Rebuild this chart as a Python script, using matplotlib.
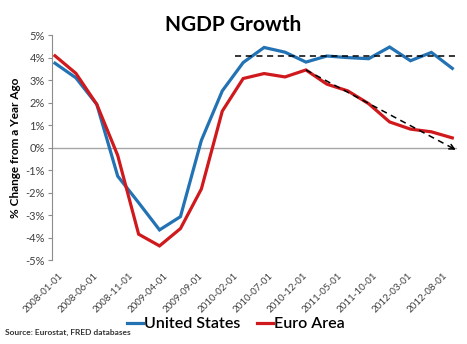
import matplotlib.pyplot as plt
from matplotlib.ticker import FuncFormatter
from matplotlib.transforms import ScaledTranslation

# Quarterly NGDP growth, % change from a year ago
quarters = ['2008-01', '2008-04', '2008-07', '2008-10', '2009-01', '2009-04', '2009-07',
            '2009-10', '2010-01', '2010-04', '2010-07', '2010-10', '2011-01', '2011-04',
            '2011-07', '2011-10', '2012-01', '2012-04', '2012-07', '2012-10']
us = [3.75, 3.10, 1.92, -1.27, -2.45, -3.66, -3.07, 0.32, 2.52, 3.78, 4.45, 4.24, 3.80,
      4.07, 4.00, 3.95, 4.47, 3.86, 4.23, 3.52]
euro = [4.08, 3.30, 1.92, -0.35, -3.85, -4.37, -3.60, -1.84, 1.62, 3.07, 3.29, 3.14, 3.45,
        2.82, 2.52, 1.95, 1.14, 0.82, 0.70, 0.43]

tick_labels = ['2008-01-01', '2008-06-01', '2008-11-01', '2009-04-01', '2009-09-01',
               '2010-02-01', '2010-07-01', '2010-12-01', '2011-05-01', '2011-10-01',
               '2012-03-01', '2012-08-01']

# trend arrows (x in months since 2008-01, y in %)
us_trend_x = [25.8, 58.3]
us_trend_y = [4.05, 4.05]
euro_trend_x = [36.0, 57.5]
euro_trend_y = [3.45, -0.10]

def month_index(s):
    y, m = s.split('-')[:2]
    return (int(y) - 2008) * 12 + int(m) - 1

x = [month_index(q) for q in quarters]
tick_x = [month_index(t) for t in tick_labels]

blue = '#2272B4'
red = '#D0191C'
grey = '#8C8C8C'
font = 'Lato'

fig = plt.figure(figsize=(4.67, 3.44), dpi=100)
ax = fig.add_axes([0.111, 0.244, 0.868, 0.654])

ax.plot(x, us, color=blue, lw=2.3, solid_joinstyle='miter', label='United States')
ax.plot(x, euro, color=red, lw=2.3, solid_joinstyle='miter', label='Euro Area')

# dashed trend arrows
for tx, ty in [(us_trend_x, us_trend_y), (euro_trend_x, euro_trend_y)]:
    ax.plot(tx, ty, color='black', lw=1.1, ls=(0, (4, 3)), zorder=3)
    dx = (tx[1] - tx[0]) * 0.03
    dy = (ty[1] - ty[0]) * 0.03
    ax.annotate('', xy=(tx[1], ty[1]), xytext=(tx[1] - dx, ty[1] - dy),
                arrowprops=dict(arrowstyle='->', color='black', lw=1.1,
                                mutation_scale=9, shrinkA=0, shrinkB=0))

ax.axhline(0, color='#A6A6A6', lw=1.0, zorder=1)

ax.set_xlim(-0.45, 57.7)
ax.set_ylim(-5, 5)
ax.set_yticks(range(-5, 6))
ax.yaxis.set_major_formatter(FuncFormatter(lambda v, p: f'{v:.0f}%'))
ax.set_xticks(tick_x)
ax.set_xticklabels(tick_labels, rotation=45, ha='right', va='top',
                   rotation_mode='anchor', fontsize=7, color='#404040', family=font)
ax.tick_params(axis='x', length=0, pad=8)
shift = ScaledTranslation(4 / 100, 0, fig.dpi_scale_trans)
for lab in ax.get_xticklabels():
    lab.set_transform(lab.get_transform() + shift)
ax.tick_params(axis='y', length=3, width=0.8, color=grey, labelsize=8,
               labelcolor='#404040', pad=2)
for lab in ax.get_yticklabels():
    lab.set_family(font)

for side in ['top', 'right', 'bottom']:
    ax.spines[side].set_visible(False)
ax.spines['left'].set_color(grey)
ax.spines['left'].set_linewidth(0.8)

ax.set_ylabel('% Change from a Year Ago', fontsize=8.5, fontweight='bold',
              family=font)
ax.yaxis.set_label_coords(-0.075, 0.5)

fig.text(0.50, 0.928, 'NGDP Growth', ha='center', va='center', fontsize=15,
         fontweight='bold', family=font)

leg = fig.legend(loc='center', bbox_to_anchor=(0.505, 0.058), ncol=2, frameon=False,
                 handlelength=1.0, handletextpad=0.1, columnspacing=1.0,
                 prop={'family': font, 'size': 11.5, 'weight': 'semibold'})

fig.text(0.01, 0.035, 'Source: Eurostat, FRED databases', fontsize=6,
         fontweight='bold', family=font, color='#333333', va='center')

fig.savefig('out.png', dpi=100)
